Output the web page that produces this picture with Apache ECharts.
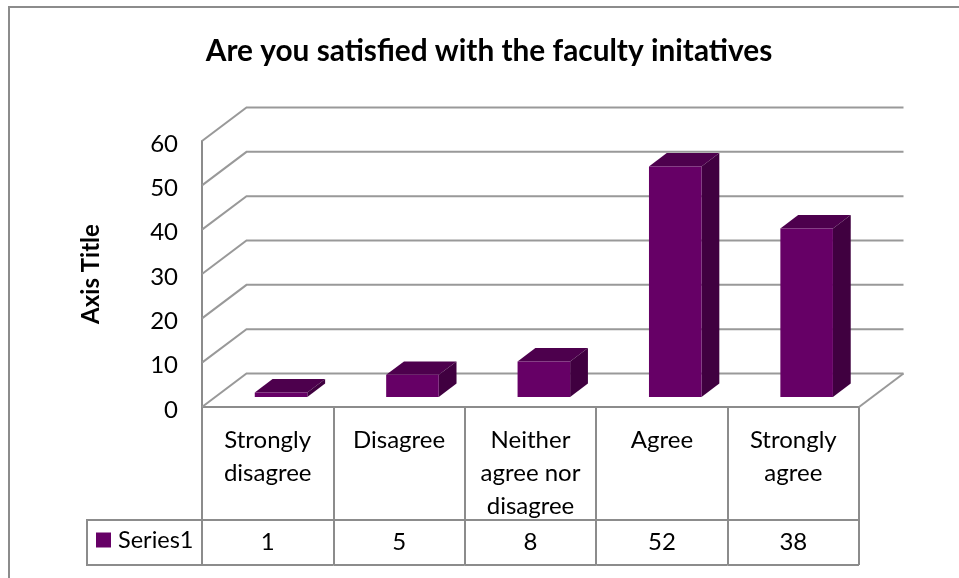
<!DOCTYPE html>
<html>
<head>
<meta charset="utf-8">
<title>faculty initatives</title>
<style>
html,body{margin:0;padding:0;background:#fff;}
#chart{width:959px;height:578px;}
</style>
<script src="https://cdn.jsdelivr.net/npm/echarts@6/dist/echarts.min.js"></script>
</head>
<body>
<div id="chart"></div>
<script>
//图表数据
var categories = ['Strongly\ndisagree','Disagree','Neither\nagree nor\ndisagree','Agree','Strongly\nagree'];
var seriesValues = [1,5,8,52,38];
var gridValues = [0,10,20,30,40,50,60];

var fontName = 'Lato';
var lineColor = '#8c8c8c';
var wallColor = '#999999';
//三维进深的像素偏移
var depthX = 44.5;
var depthY = -33.5;

var chart = echarts.init(document.getElementById('chart'));

/*
 * 背景墙的网格线
 */
function renderWall(params,api){
	var v = api.value(0);
	var band = api.size([1,0])[0];
	var first = api.coord([0,v]);
	var last = api.coord([categories.length-1,v]);
	var left = first[0]-band/2;
	var right = last[0]+band/2;
	var y = first[1];
	var shape = {points:[[left,y],[left+depthX,y+depthY],[right+depthX,y+depthY]]};
	var children = [{type:'polyline',shape:shape,style:{fill:'none',stroke:wallColor,lineWidth:2}}];
	if(v == 0){
		children.push({type:'line',shape:{x1:right,y1:y,x2:right+depthX,y2:y+depthY},style:{stroke:wallColor,lineWidth:2}});
	}
	return {type:'group',children:children};
}
/*
 * 三维柱子
 */
function renderBar(params,api){
	var i = api.value(0);
	var band = api.size([1,0])[0];
	var top = api.coord([i,api.value(1)]);
	var base = api.coord([i,0]);
	var w = band*0.4;
	//柱子在进深方向占0.3到0.7
	var fx = top[0]-w/2+depthX*0.3;
	var fy = top[1]+depthY*0.3;
	var by = base[1]+depthY*0.3;
	var ox = depthX*0.4;
	var oy = depthY*0.4;
	return {type:'group',children:[
		{type:'polygon',shape:{points:[[fx,fy],[fx+ox,fy+oy],[fx+w+ox,fy+oy],[fx+w,fy]]},style:{fill:'#4d004d'}},
		{type:'polygon',shape:{points:[[fx+w,fy],[fx+w+ox,fy+oy],[fx+w+ox,by+oy],[fx+w,by]]},style:{fill:'#400040'}},
		{type:'rect',shape:{x:fx,y:fy,width:w,height:by-fy},style:{fill:'#660066'}}
	]};
}
/*
 * 数据表的横线和数值
 */
function renderTable(params,api){
	var i = api.value(0);
	var band = api.size([1,0])[0];
	var p = api.coord([i,0]);
	var left = p[0]-band/2;
	var right = p[0]+band/2;
	var rowTop = p[1]+113;
	var rowBottom = p[1]+158;
	var lineStyle = {stroke:lineColor,lineWidth:2};
	var children = [
		{type:'line',shape:{x1:left,y1:rowTop,x2:right,y2:rowTop},style:lineStyle},
		{type:'line',shape:{x1:left,y1:rowBottom,x2:right,y2:rowBottom},style:lineStyle},
		{type:'text',style:{text:String(api.value(1)),x:p[0],y:(rowTop+rowBottom)/2,align:'center',verticalAlign:'middle',
			font:'24px '+fontName,fill:'#000'}}
	];
	if(i == 0){
		children.push({type:'polyline',shape:{points:[[left,rowTop],[left-115,rowTop],[left-115,rowBottom],[left,rowBottom]]},style:{fill:'none',stroke:lineColor,lineWidth:2}});
	}
	return {type:'group',children:children};
}

var wallData = [];
for(var k=0;k<gridValues.length;k++){
	wallData.push([gridValues[k]]);
}
var barData = [];
for(var j=0;j<seriesValues.length;j++){
	barData.push([j,seriesValues[j]]);
}

var option = {
	animation:false,
	backgroundColor:'#fff',
	title:{
		text:'Are you satisfied with the faculty initatives',
		left:484,
		top:31,
		textAlign:'center',
		textStyle:{fontFamily:fontName,fontSize:29.8,fontWeight:'bold',color:'#000'}
	},
	legend:{
		data:['Series1'],
		left:96,
		top:528,
		padding:0,
		itemWidth:15,
		itemHeight:15,
		itemGap:0,
		icon:'rect',
		selectedMode:false,
		textStyle:{fontFamily:fontName,fontSize:23.5,color:'#000',padding:[0,0,0,2]}
	},
	grid:{left:202,right:100,top:141,bottom:171},
	xAxis:{
		type:'category',
		data:categories,
		axisLine:{show:true,onZero:false,lineStyle:{color:lineColor,width:2}},
		axisTick:{show:true,length:158,lineStyle:{color:lineColor,width:2}},
		axisLabel:{interval:0,margin:17,verticalAlign:'top',lineHeight:33,fontFamily:fontName,fontSize:24,color:'#000'},
		splitLine:{show:false}
	},
	yAxis:{
		type:'value',
		min:0,
		max:60,
		interval:10,
		name:'Axis Title',
		nameLocation:'middle',
		nameGap:99,
		nameRotate:90,
		nameTextStyle:{fontFamily:fontName,fontSize:24,fontWeight:'bold',color:'#000'},
		axisLine:{show:true,lineStyle:{color:lineColor,width:2}},
		axisTick:{show:false},
		axisLabel:{
			margin:24,
			formatter:'{a|{value}}',
			rich:{a:{padding:[6,0,0,0],fontFamily:fontName,fontSize:24,color:'#000'}}
		},
		splitLine:{show:false}
	},
	graphic:[
		{type:'polyline',silent:true,z:0,shape:{points:[[9,578],[9,7],[959,7]]},style:{fill:'none',stroke:lineColor,lineWidth:2}}
	],
	series:[
		{name:'wall',type:'custom',clip:false,z:1,silent:true,renderItem:renderWall,data:wallData,encode:{y:0}},
		{name:'Series1',type:'custom',clip:false,z:3,silent:true,itemStyle:{color:'#660066'},renderItem:renderBar,data:barData,encode:{x:0,y:1}},
		{name:'table',type:'custom',clip:false,z:2,silent:true,renderItem:renderTable,data:barData,encode:{x:0}}
	]
};
chart.setOption(option);
</script>
</body>
</html>
